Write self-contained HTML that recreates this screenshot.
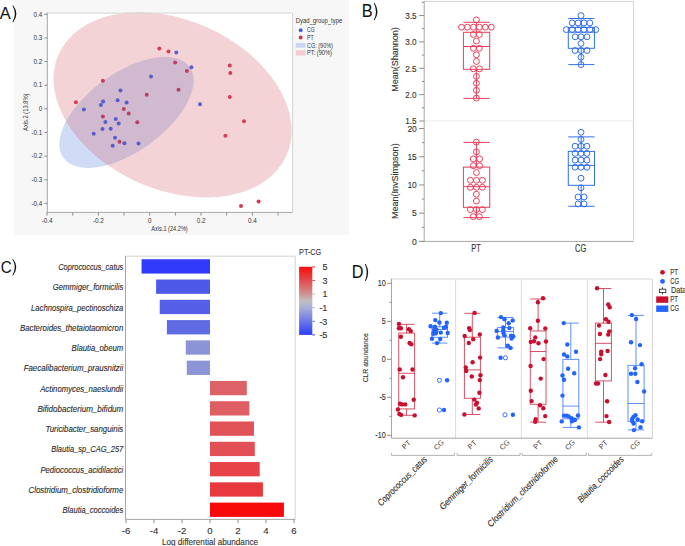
<!DOCTYPE html>
<html><head><meta charset="utf-8"><title>Figure</title>
<style>
html,body{margin:0;padding:0;background:#fff;}
body{width:685px;height:546px;overflow:hidden;}
svg{display:block;font-family:"Liberation Sans", sans-serif;}

</style></head>
<body>
<svg width="685" height="546" viewBox="0 0 685 546">
<g id="pA">
<rect x="14.00" y="0.00" width="335.00" height="235.00" fill="#f7f7f7"/>
<text x="0" y="0" font-size="16.8" fill="#111" transform="translate(-0.25 18.60) scale(0.98 1)">A</text>
<path d="M12.33,5.50 L13.17,5.50 Q19.51,13.85 13.17,22.20 L12.33,22.20 Q17.39,13.85 12.33,5.50 Z" fill="#111"/>
<rect x="47.30" y="13.10" width="245.30" height="199.30" fill="#fff"/>
<circle cx="159.30" cy="48.40" r="2.0" fill="rgb(215,55,80)"/>
<circle cx="168.50" cy="51.40" r="2.0" fill="rgb(215,55,80)"/>
<circle cx="175.10" cy="62.50" r="2.0" fill="rgb(215,55,80)"/>
<circle cx="186.90" cy="70.90" r="2.0" fill="rgb(215,55,80)"/>
<circle cx="178.50" cy="89.70" r="2.0" fill="rgb(215,55,80)"/>
<circle cx="146.70" cy="94.80" r="2.0" fill="rgb(215,55,80)"/>
<circle cx="102.90" cy="80.70" r="2.0" fill="rgb(215,55,80)"/>
<circle cx="75.90" cy="102.30" r="2.0" fill="rgb(215,55,80)"/>
<circle cx="123.80" cy="109.10" r="2.0" fill="rgb(215,55,80)"/>
<circle cx="128.70" cy="113.60" r="2.0" fill="rgb(215,55,80)"/>
<circle cx="102.90" cy="116.40" r="2.0" fill="rgb(215,55,80)"/>
<circle cx="137.30" cy="122.20" r="2.0" fill="rgb(215,55,80)"/>
<circle cx="119.50" cy="141.80" r="2.0" fill="rgb(215,55,80)"/>
<circle cx="229.80" cy="65.50" r="2.0" fill="rgb(215,55,80)"/>
<circle cx="230.30" cy="73.00" r="2.0" fill="rgb(215,55,80)"/>
<circle cx="229.80" cy="96.90" r="2.0" fill="rgb(215,55,80)"/>
<circle cx="244.00" cy="121.30" r="2.0" fill="rgb(215,55,80)"/>
<circle cx="225.40" cy="135.80" r="2.0" fill="rgb(215,55,80)"/>
<circle cx="241.00" cy="206.00" r="2.0" fill="rgb(215,55,80)"/>
<circle cx="258.60" cy="201.40" r="2.0" fill="rgb(215,55,80)"/>
<circle cx="176.30" cy="52.50" r="2.0" fill="rgb(50,104,246)"/>
<circle cx="191.40" cy="67.20" r="2.0" fill="rgb(50,104,246)"/>
<circle cx="151.00" cy="76.40" r="2.0" fill="rgb(50,104,246)"/>
<circle cx="120.50" cy="90.50" r="2.0" fill="rgb(50,104,246)"/>
<circle cx="103.10" cy="101.50" r="2.0" fill="rgb(50,104,246)"/>
<circle cx="100.90" cy="105.00" r="2.0" fill="rgb(50,104,246)"/>
<circle cx="117.60" cy="100.30" r="2.0" fill="rgb(50,104,246)"/>
<circle cx="126.60" cy="102.50" r="2.0" fill="rgb(50,104,246)"/>
<circle cx="83.90" cy="109.50" r="2.0" fill="rgb(50,104,246)"/>
<circle cx="115.80" cy="118.90" r="2.0" fill="rgb(50,104,246)"/>
<circle cx="118.70" cy="123.60" r="2.0" fill="rgb(50,104,246)"/>
<circle cx="105.40" cy="122.00" r="2.0" fill="rgb(50,104,246)"/>
<circle cx="102.50" cy="128.90" r="2.0" fill="rgb(50,104,246)"/>
<circle cx="110.70" cy="128.70" r="2.0" fill="rgb(50,104,246)"/>
<circle cx="93.70" cy="133.80" r="2.0" fill="rgb(50,104,246)"/>
<circle cx="115.00" cy="137.70" r="2.0" fill="rgb(50,104,246)"/>
<circle cx="124.40" cy="143.20" r="2.0" fill="rgb(50,104,246)"/>
<circle cx="112.70" cy="145.70" r="2.0" fill="rgb(50,104,246)"/>
<circle cx="138.50" cy="143.60" r="2.0" fill="rgb(50,104,246)"/>
<circle cx="200.00" cy="104.20" r="2.0" fill="rgb(50,104,246)"/>
<ellipse cx="126.48" cy="112.39" rx="77.82" ry="39.19" transform="rotate(-35.76 126.48 112.39)" fill="rgb(20,80,205)" fill-opacity="0.2"/>
<ellipse cx="172.6" cy="104.84" rx="124.67" ry="84.83" transform="rotate(23.9 172.6 104.84)" fill="rgb(211,79,95)" fill-opacity="0.25"/>
<line x1="47.30" y1="13.10" x2="292.60" y2="13.10" stroke="#d4d4d4" stroke-width="1"/>
<line x1="292.60" y1="13.10" x2="292.60" y2="212.40" stroke="#d4d4d4" stroke-width="1"/>
<line x1="47.30" y1="12.60" x2="47.30" y2="212.40" stroke="#a6a6a6" stroke-width="1"/>
<line x1="46.80" y1="212.40" x2="292.60" y2="212.40" stroke="#a6a6a6" stroke-width="1"/>
<line x1="44.30" y1="203.37" x2="47.30" y2="203.37" stroke="#8c8c8c" stroke-width="1"/>
<text x="42.30" y="205.57" font-size="6.3" text-anchor="end" fill="#333">-0.4</text>
<line x1="44.30" y1="179.74" x2="47.30" y2="179.74" stroke="#8c8c8c" stroke-width="1"/>
<text x="42.30" y="181.94" font-size="6.3" text-anchor="end" fill="#333">-0.3</text>
<line x1="44.30" y1="156.11" x2="47.30" y2="156.11" stroke="#8c8c8c" stroke-width="1"/>
<text x="42.30" y="158.31" font-size="6.3" text-anchor="end" fill="#333">-0.2</text>
<line x1="44.30" y1="132.48" x2="47.30" y2="132.48" stroke="#8c8c8c" stroke-width="1"/>
<text x="42.30" y="134.68" font-size="6.3" text-anchor="end" fill="#333">-0.1</text>
<line x1="44.30" y1="108.85" x2="47.30" y2="108.85" stroke="#8c8c8c" stroke-width="1"/>
<text x="42.30" y="111.05" font-size="6.3" text-anchor="end" fill="#333">0</text>
<line x1="44.30" y1="85.22" x2="47.30" y2="85.22" stroke="#8c8c8c" stroke-width="1"/>
<text x="42.30" y="87.42" font-size="6.3" text-anchor="end" fill="#333">0.1</text>
<line x1="44.30" y1="61.59" x2="47.30" y2="61.59" stroke="#8c8c8c" stroke-width="1"/>
<text x="42.30" y="63.79" font-size="6.3" text-anchor="end" fill="#333">0.2</text>
<line x1="44.30" y1="37.96" x2="47.30" y2="37.96" stroke="#8c8c8c" stroke-width="1"/>
<text x="42.30" y="40.16" font-size="6.3" text-anchor="end" fill="#333">0.3</text>
<line x1="44.30" y1="14.33" x2="47.30" y2="14.33" stroke="#8c8c8c" stroke-width="1"/>
<text x="42.30" y="16.53" font-size="6.3" text-anchor="end" fill="#333">0.4</text>
<line x1="47.06" y1="212.40" x2="47.06" y2="215.60" stroke="#8c8c8c" stroke-width="1"/>
<line x1="72.72" y1="212.40" x2="72.72" y2="215.60" stroke="#8c8c8c" stroke-width="1"/>
<line x1="98.38" y1="212.40" x2="98.38" y2="215.60" stroke="#8c8c8c" stroke-width="1"/>
<line x1="124.04" y1="212.40" x2="124.04" y2="215.60" stroke="#8c8c8c" stroke-width="1"/>
<line x1="149.70" y1="212.40" x2="149.70" y2="215.60" stroke="#8c8c8c" stroke-width="1"/>
<line x1="175.36" y1="212.40" x2="175.36" y2="215.60" stroke="#8c8c8c" stroke-width="1"/>
<line x1="201.02" y1="212.40" x2="201.02" y2="215.60" stroke="#8c8c8c" stroke-width="1"/>
<line x1="226.68" y1="212.40" x2="226.68" y2="215.60" stroke="#8c8c8c" stroke-width="1"/>
<line x1="252.34" y1="212.40" x2="252.34" y2="215.60" stroke="#8c8c8c" stroke-width="1"/>
<line x1="278.00" y1="212.40" x2="278.00" y2="215.60" stroke="#8c8c8c" stroke-width="1"/>
<text x="47.06" y="222.80" font-size="6.3" text-anchor="middle" fill="#333">-0.4</text>
<text x="98.38" y="222.80" font-size="6.3" text-anchor="middle" fill="#333">-0.2</text>
<text x="149.70" y="222.80" font-size="6.3" text-anchor="middle" fill="#333">0</text>
<text x="201.02" y="222.80" font-size="6.3" text-anchor="middle" fill="#333">0.2</text>
<text x="252.34" y="222.80" font-size="6.3" text-anchor="middle" fill="#333">0.4</text>
<text x="169.50" y="231.40" font-size="6.3" text-anchor="middle" fill="#333" textLength="36.50" lengthAdjust="spacingAndGlyphs">Axis.1 (24.2%)</text>
<text x="28.20" y="112.20" font-size="6.3" text-anchor="middle" fill="#333" textLength="37.50" lengthAdjust="spacingAndGlyphs" transform="rotate(-90 28.20 112.20)">Axis.2 (13.8%)</text>
<text x="295.70" y="22.50" font-size="6.8" fill="#333" textLength="46.50" lengthAdjust="spacingAndGlyphs">Dyad_group_type</text>
<circle cx="300.70" cy="30.20" r="1.9" fill="#2e5ee0"/>
<text x="307.00" y="32.40" font-size="6.8" fill="#333" textLength="7.70" lengthAdjust="spacingAndGlyphs">CG</text>
<circle cx="300.70" cy="37.50" r="1.9" fill="#d32e47"/>
<text x="307.00" y="39.70" font-size="6.8" fill="#333" textLength="6.60" lengthAdjust="spacingAndGlyphs">PT</text>
<rect x="295.70" y="43.00" width="9.90" height="4.80" fill="#cad7f3"/>
<text x="307.00" y="47.50" font-size="6.8" fill="#333" textLength="25.90" lengthAdjust="spacingAndGlyphs">CG: (90%)</text>
<rect x="295.70" y="50.20" width="9.90" height="5.30" fill="#f3cdd4"/>
<text x="307.00" y="55.00" font-size="6.8" fill="#333" textLength="25.00" lengthAdjust="spacingAndGlyphs">PT: (90%)</text>
</g>
<g id="pB">
<text x="0" y="0" font-size="17.6" fill="#111" transform="translate(361.76 16.80) scale(0.93 1)">B</text>
<path d="M373.73,3.10 L374.57,3.10 Q380.31,11.70 374.57,20.30 L373.73,20.30 Q378.19,11.70 373.73,3.10 Z" fill="#111"/>
<line x1="424.20" y1="1.40" x2="633.40" y2="1.40" stroke="#d4d4d4" stroke-width="1"/>
<line x1="633.40" y1="1.40" x2="633.40" y2="241.40" stroke="#d4d4d4" stroke-width="1"/>
<line x1="424.20" y1="120.90" x2="633.40" y2="120.90" stroke="#ebebeb" stroke-width="1"/>
<line x1="424.20" y1="1.00" x2="424.20" y2="241.40" stroke="#a6a6a6" stroke-width="1"/>
<line x1="419.20" y1="241.40" x2="633.40" y2="241.40" stroke="#a6a6a6" stroke-width="1"/>
<line x1="419.20" y1="121.00" x2="424.20" y2="121.00" stroke="#8c8c8c" stroke-width="1"/>
<text x="416.60" y="124.30" font-size="9.8" text-anchor="end" fill="#333" stroke="#333" stroke-width="0.12" textLength="11.40" lengthAdjust="spacingAndGlyphs">1.5</text>
<line x1="421.80" y1="107.81" x2="424.20" y2="107.81" stroke="#8c8c8c" stroke-width="1"/>
<line x1="419.20" y1="94.62" x2="424.20" y2="94.62" stroke="#8c8c8c" stroke-width="1"/>
<text x="416.60" y="97.92" font-size="9.8" text-anchor="end" fill="#333" stroke="#333" stroke-width="0.12" textLength="11.40" lengthAdjust="spacingAndGlyphs">2.0</text>
<line x1="421.80" y1="81.44" x2="424.20" y2="81.44" stroke="#8c8c8c" stroke-width="1"/>
<line x1="419.20" y1="68.25" x2="424.20" y2="68.25" stroke="#8c8c8c" stroke-width="1"/>
<text x="416.60" y="71.55" font-size="9.8" text-anchor="end" fill="#333" stroke="#333" stroke-width="0.12" textLength="11.40" lengthAdjust="spacingAndGlyphs">2.5</text>
<line x1="421.80" y1="55.06" x2="424.20" y2="55.06" stroke="#8c8c8c" stroke-width="1"/>
<line x1="419.20" y1="41.88" x2="424.20" y2="41.88" stroke="#8c8c8c" stroke-width="1"/>
<text x="416.60" y="45.17" font-size="9.8" text-anchor="end" fill="#333" stroke="#333" stroke-width="0.12" textLength="11.40" lengthAdjust="spacingAndGlyphs">3.0</text>
<line x1="421.80" y1="28.69" x2="424.20" y2="28.69" stroke="#8c8c8c" stroke-width="1"/>
<line x1="419.20" y1="15.50" x2="424.20" y2="15.50" stroke="#8c8c8c" stroke-width="1"/>
<text x="416.60" y="18.80" font-size="9.8" text-anchor="end" fill="#333" stroke="#333" stroke-width="0.12" textLength="11.40" lengthAdjust="spacingAndGlyphs">3.5</text>
<line x1="421.80" y1="2.31" x2="424.20" y2="2.31" stroke="#8c8c8c" stroke-width="1"/>
<line x1="419.20" y1="241.40" x2="424.20" y2="241.40" stroke="#8c8c8c" stroke-width="1"/>
<text x="416.80" y="244.70" font-size="9.8" text-anchor="end" fill="#333" stroke="#333" stroke-width="0.12" textLength="4.80" lengthAdjust="spacingAndGlyphs">0</text>
<line x1="421.80" y1="227.29" x2="424.20" y2="227.29" stroke="#8c8c8c" stroke-width="1"/>
<line x1="419.20" y1="213.18" x2="424.20" y2="213.18" stroke="#8c8c8c" stroke-width="1"/>
<text x="416.80" y="216.48" font-size="9.8" text-anchor="end" fill="#333" stroke="#333" stroke-width="0.12" textLength="4.80" lengthAdjust="spacingAndGlyphs">5</text>
<line x1="421.80" y1="199.06" x2="424.20" y2="199.06" stroke="#8c8c8c" stroke-width="1"/>
<line x1="419.20" y1="184.95" x2="424.20" y2="184.95" stroke="#8c8c8c" stroke-width="1"/>
<text x="416.80" y="188.25" font-size="9.8" text-anchor="end" fill="#333" stroke="#333" stroke-width="0.12" textLength="9.40" lengthAdjust="spacingAndGlyphs">10</text>
<line x1="421.80" y1="170.84" x2="424.20" y2="170.84" stroke="#8c8c8c" stroke-width="1"/>
<line x1="419.20" y1="156.73" x2="424.20" y2="156.73" stroke="#8c8c8c" stroke-width="1"/>
<text x="416.80" y="160.03" font-size="9.8" text-anchor="end" fill="#333" stroke="#333" stroke-width="0.12" textLength="9.40" lengthAdjust="spacingAndGlyphs">15</text>
<line x1="421.80" y1="142.61" x2="424.20" y2="142.61" stroke="#8c8c8c" stroke-width="1"/>
<line x1="419.20" y1="128.50" x2="424.20" y2="128.50" stroke="#8c8c8c" stroke-width="1"/>
<text x="416.80" y="131.80" font-size="9.8" text-anchor="end" fill="#333" stroke="#333" stroke-width="0.12" textLength="9.40" lengthAdjust="spacingAndGlyphs">20</text>
<text x="397.60" y="59.50" font-size="8.6" text-anchor="middle" fill="#333" stroke="#333" stroke-width="0.12" textLength="64.50" lengthAdjust="spacingAndGlyphs" transform="rotate(-90 397.60 59.50)">Mean(Shannon)</text>
<text x="397.80" y="181.20" font-size="8.6" text-anchor="middle" fill="#333" stroke="#333" stroke-width="0.12" textLength="75.70" lengthAdjust="spacingAndGlyphs" transform="rotate(-90 397.80 181.20)">Mean(InvSimpson)</text>
<text x="476.00" y="251.80" font-size="10.2" text-anchor="middle" fill="#333" stroke="#333" stroke-width="0.12" textLength="9.50" lengthAdjust="spacingAndGlyphs">PT</text>
<text x="580.70" y="251.80" font-size="10.2" text-anchor="middle" fill="#333" stroke="#333" stroke-width="0.12" textLength="11.30" lengthAdjust="spacingAndGlyphs">CG</text>
<line x1="463.40" y1="22.30" x2="489.70" y2="22.30" stroke="#ec3d5a" stroke-width="1"/>
<line x1="463.40" y1="98.40" x2="489.70" y2="98.40" stroke="#ec3d5a" stroke-width="1"/>
<line x1="476.40" y1="22.30" x2="476.40" y2="32.30" stroke="#ec3d5a" stroke-width="1"/>
<line x1="476.40" y1="69.30" x2="476.40" y2="98.40" stroke="#ec3d5a" stroke-width="1"/>
<rect x="463.40" y="32.30" width="26.30" height="37.00" fill="none" stroke="#ec3d5a" stroke-width="1"/>
<line x1="463.40" y1="46.50" x2="489.70" y2="46.50" stroke="#ec3d5a" stroke-width="1"/>
<circle cx="476.40" cy="19.90" r="2.95" fill="none" stroke="#ec3d5a" stroke-width="1"/>
<circle cx="461.50" cy="27.20" r="2.95" fill="none" stroke="#ec3d5a" stroke-width="1"/>
<circle cx="467.45" cy="27.20" r="2.95" fill="none" stroke="#ec3d5a" stroke-width="1"/>
<circle cx="473.40" cy="27.20" r="2.95" fill="none" stroke="#ec3d5a" stroke-width="1"/>
<circle cx="479.35" cy="27.20" r="2.95" fill="none" stroke="#ec3d5a" stroke-width="1"/>
<circle cx="485.30" cy="27.20" r="2.95" fill="none" stroke="#ec3d5a" stroke-width="1"/>
<circle cx="491.25" cy="27.20" r="2.95" fill="none" stroke="#ec3d5a" stroke-width="1"/>
<circle cx="473.40" cy="34.50" r="2.95" fill="none" stroke="#ec3d5a" stroke-width="1"/>
<circle cx="479.30" cy="34.50" r="2.95" fill="none" stroke="#ec3d5a" stroke-width="1"/>
<circle cx="476.40" cy="41.00" r="2.95" fill="none" stroke="#ec3d5a" stroke-width="1"/>
<circle cx="473.40" cy="48.30" r="2.95" fill="none" stroke="#ec3d5a" stroke-width="1"/>
<circle cx="479.30" cy="48.30" r="2.95" fill="none" stroke="#ec3d5a" stroke-width="1"/>
<circle cx="476.40" cy="54.80" r="2.95" fill="none" stroke="#ec3d5a" stroke-width="1"/>
<circle cx="476.40" cy="61.50" r="2.95" fill="none" stroke="#ec3d5a" stroke-width="1"/>
<circle cx="473.30" cy="68.80" r="2.95" fill="none" stroke="#ec3d5a" stroke-width="1"/>
<circle cx="479.50" cy="68.80" r="2.95" fill="none" stroke="#ec3d5a" stroke-width="1"/>
<circle cx="476.40" cy="76.40" r="2.95" fill="none" stroke="#ec3d5a" stroke-width="1"/>
<circle cx="476.40" cy="83.30" r="2.95" fill="none" stroke="#ec3d5a" stroke-width="1"/>
<circle cx="476.40" cy="90.30" r="2.95" fill="none" stroke="#ec3d5a" stroke-width="1"/>
<circle cx="476.40" cy="98.10" r="2.95" fill="none" stroke="#ec3d5a" stroke-width="1"/>
<line x1="568.30" y1="18.50" x2="594.40" y2="18.50" stroke="#3370ee" stroke-width="1"/>
<line x1="568.30" y1="64.60" x2="594.40" y2="64.60" stroke="#3370ee" stroke-width="1"/>
<line x1="581.20" y1="18.50" x2="581.20" y2="27.50" stroke="#3370ee" stroke-width="1"/>
<line x1="581.20" y1="48.30" x2="581.20" y2="64.60" stroke="#3370ee" stroke-width="1"/>
<rect x="568.30" y="27.50" width="26.10" height="20.80" fill="none" stroke="#3370ee" stroke-width="1"/>
<line x1="568.30" y1="32.20" x2="594.40" y2="32.20" stroke="#3370ee" stroke-width="1"/>
<circle cx="581.00" cy="15.60" r="2.95" fill="none" stroke="#3370ee" stroke-width="1"/>
<circle cx="572.20" cy="22.90" r="2.95" fill="none" stroke="#3370ee" stroke-width="1"/>
<circle cx="578.08" cy="22.90" r="2.95" fill="none" stroke="#3370ee" stroke-width="1"/>
<circle cx="583.96" cy="22.90" r="2.95" fill="none" stroke="#3370ee" stroke-width="1"/>
<circle cx="589.84" cy="22.90" r="2.95" fill="none" stroke="#3370ee" stroke-width="1"/>
<circle cx="566.30" cy="29.60" r="2.95" fill="none" stroke="#3370ee" stroke-width="1"/>
<circle cx="572.20" cy="29.60" r="2.95" fill="none" stroke="#3370ee" stroke-width="1"/>
<circle cx="578.10" cy="29.60" r="2.95" fill="none" stroke="#3370ee" stroke-width="1"/>
<circle cx="584.00" cy="29.60" r="2.95" fill="none" stroke="#3370ee" stroke-width="1"/>
<circle cx="589.90" cy="29.60" r="2.95" fill="none" stroke="#3370ee" stroke-width="1"/>
<circle cx="595.80" cy="29.60" r="2.95" fill="none" stroke="#3370ee" stroke-width="1"/>
<circle cx="575.10" cy="36.80" r="2.95" fill="none" stroke="#3370ee" stroke-width="1"/>
<circle cx="581.00" cy="36.80" r="2.95" fill="none" stroke="#3370ee" stroke-width="1"/>
<circle cx="587.00" cy="36.80" r="2.95" fill="none" stroke="#3370ee" stroke-width="1"/>
<circle cx="581.00" cy="43.50" r="2.95" fill="none" stroke="#3370ee" stroke-width="1"/>
<circle cx="575.10" cy="50.50" r="2.95" fill="none" stroke="#3370ee" stroke-width="1"/>
<circle cx="581.00" cy="50.50" r="2.95" fill="none" stroke="#3370ee" stroke-width="1"/>
<circle cx="587.00" cy="50.50" r="2.95" fill="none" stroke="#3370ee" stroke-width="1"/>
<circle cx="581.00" cy="57.20" r="2.95" fill="none" stroke="#3370ee" stroke-width="1"/>
<circle cx="581.00" cy="64.60" r="2.95" fill="none" stroke="#3370ee" stroke-width="1"/>
<line x1="463.40" y1="142.40" x2="489.70" y2="142.40" stroke="#ec3d5a" stroke-width="1"/>
<line x1="463.40" y1="217.60" x2="489.70" y2="217.60" stroke="#ec3d5a" stroke-width="1"/>
<line x1="476.40" y1="142.40" x2="476.40" y2="167.10" stroke="#ec3d5a" stroke-width="1"/>
<line x1="476.40" y1="207.30" x2="476.40" y2="217.60" stroke="#ec3d5a" stroke-width="1"/>
<rect x="463.40" y="167.10" width="26.30" height="40.20" fill="none" stroke="#ec3d5a" stroke-width="1"/>
<line x1="463.40" y1="186.70" x2="489.70" y2="186.70" stroke="#ec3d5a" stroke-width="1"/>
<circle cx="476.40" cy="142.10" r="2.95" fill="none" stroke="#ec3d5a" stroke-width="1"/>
<circle cx="476.40" cy="151.90" r="2.95" fill="none" stroke="#ec3d5a" stroke-width="1"/>
<circle cx="473.30" cy="158.90" r="2.95" fill="none" stroke="#ec3d5a" stroke-width="1"/>
<circle cx="479.60" cy="158.90" r="2.95" fill="none" stroke="#ec3d5a" stroke-width="1"/>
<circle cx="473.30" cy="165.70" r="2.95" fill="none" stroke="#ec3d5a" stroke-width="1"/>
<circle cx="479.60" cy="165.70" r="2.95" fill="none" stroke="#ec3d5a" stroke-width="1"/>
<circle cx="476.40" cy="172.50" r="2.95" fill="none" stroke="#ec3d5a" stroke-width="1"/>
<circle cx="470.40" cy="180.30" r="2.95" fill="none" stroke="#ec3d5a" stroke-width="1"/>
<circle cx="476.40" cy="180.30" r="2.95" fill="none" stroke="#ec3d5a" stroke-width="1"/>
<circle cx="482.40" cy="180.30" r="2.95" fill="none" stroke="#ec3d5a" stroke-width="1"/>
<circle cx="470.40" cy="187.30" r="2.95" fill="none" stroke="#ec3d5a" stroke-width="1"/>
<circle cx="476.40" cy="187.30" r="2.95" fill="none" stroke="#ec3d5a" stroke-width="1"/>
<circle cx="482.40" cy="187.30" r="2.95" fill="none" stroke="#ec3d5a" stroke-width="1"/>
<circle cx="476.40" cy="194.20" r="2.95" fill="none" stroke="#ec3d5a" stroke-width="1"/>
<circle cx="476.40" cy="201.10" r="2.95" fill="none" stroke="#ec3d5a" stroke-width="1"/>
<circle cx="470.40" cy="209.60" r="2.95" fill="none" stroke="#ec3d5a" stroke-width="1"/>
<circle cx="476.40" cy="209.60" r="2.95" fill="none" stroke="#ec3d5a" stroke-width="1"/>
<circle cx="482.40" cy="209.60" r="2.95" fill="none" stroke="#ec3d5a" stroke-width="1"/>
<circle cx="473.30" cy="216.60" r="2.95" fill="none" stroke="#ec3d5a" stroke-width="1"/>
<circle cx="479.40" cy="216.60" r="2.95" fill="none" stroke="#ec3d5a" stroke-width="1"/>
<line x1="568.30" y1="136.90" x2="594.50" y2="136.90" stroke="#3370ee" stroke-width="1"/>
<line x1="568.30" y1="206.30" x2="594.50" y2="206.30" stroke="#3370ee" stroke-width="1"/>
<line x1="581.20" y1="136.90" x2="581.20" y2="151.40" stroke="#3370ee" stroke-width="1"/>
<line x1="581.20" y1="185.30" x2="581.20" y2="206.30" stroke="#3370ee" stroke-width="1"/>
<rect x="568.30" y="151.40" width="26.20" height="33.90" fill="none" stroke="#3370ee" stroke-width="1"/>
<line x1="568.30" y1="165.40" x2="594.50" y2="165.40" stroke="#3370ee" stroke-width="1"/>
<circle cx="581.00" cy="132.30" r="2.95" fill="none" stroke="#3370ee" stroke-width="1"/>
<circle cx="581.00" cy="139.40" r="2.95" fill="none" stroke="#3370ee" stroke-width="1"/>
<circle cx="575.10" cy="146.20" r="2.95" fill="none" stroke="#3370ee" stroke-width="1"/>
<circle cx="581.00" cy="146.20" r="2.95" fill="none" stroke="#3370ee" stroke-width="1"/>
<circle cx="586.90" cy="146.20" r="2.95" fill="none" stroke="#3370ee" stroke-width="1"/>
<circle cx="575.10" cy="153.40" r="2.95" fill="none" stroke="#3370ee" stroke-width="1"/>
<circle cx="581.00" cy="153.40" r="2.95" fill="none" stroke="#3370ee" stroke-width="1"/>
<circle cx="586.90" cy="153.40" r="2.95" fill="none" stroke="#3370ee" stroke-width="1"/>
<circle cx="575.10" cy="160.10" r="2.95" fill="none" stroke="#3370ee" stroke-width="1"/>
<circle cx="581.00" cy="160.10" r="2.95" fill="none" stroke="#3370ee" stroke-width="1"/>
<circle cx="586.90" cy="160.10" r="2.95" fill="none" stroke="#3370ee" stroke-width="1"/>
<circle cx="575.10" cy="167.20" r="2.95" fill="none" stroke="#3370ee" stroke-width="1"/>
<circle cx="581.00" cy="167.20" r="2.95" fill="none" stroke="#3370ee" stroke-width="1"/>
<circle cx="586.90" cy="167.20" r="2.95" fill="none" stroke="#3370ee" stroke-width="1"/>
<circle cx="581.00" cy="178.20" r="2.95" fill="none" stroke="#3370ee" stroke-width="1"/>
<circle cx="581.00" cy="187.80" r="2.95" fill="none" stroke="#3370ee" stroke-width="1"/>
<circle cx="578.10" cy="197.00" r="2.95" fill="none" stroke="#3370ee" stroke-width="1"/>
<circle cx="584.10" cy="197.00" r="2.95" fill="none" stroke="#3370ee" stroke-width="1"/>
<circle cx="578.10" cy="203.90" r="2.95" fill="none" stroke="#3370ee" stroke-width="1"/>
<circle cx="584.10" cy="203.90" r="2.95" fill="none" stroke="#3370ee" stroke-width="1"/>
</g>
<g id="pC">
<text x="0" y="0" font-size="16.9" fill="#111" transform="translate(0.63 272.50) scale(0.904 1)">C</text>
<path d="M12.28,259.00 L13.12,259.00 Q19.46,267.30 13.12,275.60 L12.28,275.60 Q17.34,267.30 12.28,259.00 Z" fill="#111"/>
<line x1="125.50" y1="256.20" x2="295.20" y2="256.20" stroke="#d4d4d4" stroke-width="1"/>
<line x1="295.20" y1="256.20" x2="295.20" y2="519.40" stroke="#d4d4d4" stroke-width="1"/>
<line x1="125.50" y1="256.00" x2="125.50" y2="519.40" stroke="#a6a6a6" stroke-width="1"/>
<line x1="125.50" y1="519.40" x2="295.20" y2="519.40" stroke="#a6a6a6" stroke-width="1"/>
<rect x="141.54" y="259.25" width="68.46" height="14.30" fill="rgb(48,58,248)"/>
<text x="123.30" y="269.95" font-size="8.5" text-anchor="end" fill="#2a2a2a" stroke="#2a2a2a" stroke-width="0.12" font-style="italic" textLength="65.10" lengthAdjust="spacingAndGlyphs">Coprococcus_catus</text>
<rect x="156.10" y="279.53" width="53.90" height="14.30" fill="rgb(78,88,232)"/>
<text x="123.30" y="290.23" font-size="8.5" text-anchor="end" fill="#2a2a2a" stroke="#2a2a2a" stroke-width="0.12" font-style="italic" textLength="70.60" lengthAdjust="spacingAndGlyphs">Gemmiger_formicilis</text>
<rect x="159.74" y="299.81" width="50.26" height="14.30" fill="rgb(84,94,230)"/>
<text x="123.30" y="310.51" font-size="8.5" text-anchor="end" fill="#2a2a2a" stroke="#2a2a2a" stroke-width="0.12" font-style="italic" textLength="92.20" lengthAdjust="spacingAndGlyphs">Lachnospira_pectinoschiza</text>
<rect x="166.88" y="320.09" width="43.12" height="14.30" fill="rgb(96,106,226)"/>
<text x="123.30" y="330.79" font-size="8.5" text-anchor="end" fill="#2a2a2a" stroke="#2a2a2a" stroke-width="0.12" font-style="italic" textLength="103.30" lengthAdjust="spacingAndGlyphs">Bacteroides_thetaiotaomicron</text>
<rect x="185.78" y="340.37" width="24.22" height="14.30" fill="rgb(138,148,214)"/>
<text x="123.30" y="351.07" font-size="8.5" text-anchor="end" fill="#2a2a2a" stroke="#2a2a2a" stroke-width="0.12" font-style="italic" textLength="51.80" lengthAdjust="spacingAndGlyphs">Blautia_obeum</text>
<rect x="186.76" y="360.65" width="23.24" height="14.30" fill="rgb(140,150,214)"/>
<text x="123.30" y="371.35" font-size="8.5" text-anchor="end" fill="#2a2a2a" stroke="#2a2a2a" stroke-width="0.12" font-style="italic" textLength="99.60" lengthAdjust="spacingAndGlyphs">Faecalibacterium_prausnitzii</text>
<rect x="210.00" y="380.93" width="36.82" height="14.30" fill="rgb(220,98,104)"/>
<text x="123.30" y="391.63" font-size="8.5" text-anchor="end" fill="#2a2a2a" stroke="#2a2a2a" stroke-width="0.12" font-style="italic" textLength="83.10" lengthAdjust="spacingAndGlyphs">Actinomyces_naeslundii</text>
<rect x="210.00" y="401.21" width="39.34" height="14.30" fill="rgb(222,94,99)"/>
<text x="123.30" y="411.91" font-size="8.5" text-anchor="end" fill="#2a2a2a" stroke="#2a2a2a" stroke-width="0.12" font-style="italic" textLength="85.90" lengthAdjust="spacingAndGlyphs">Bifidobacterium_bifidum</text>
<rect x="210.00" y="421.49" width="43.96" height="14.30" fill="rgb(225,82,87)"/>
<text x="123.30" y="432.19" font-size="8.5" text-anchor="end" fill="#2a2a2a" stroke="#2a2a2a" stroke-width="0.12" font-style="italic" textLength="77.80" lengthAdjust="spacingAndGlyphs">Turicibacter_sanguinis</text>
<rect x="210.00" y="441.77" width="44.80" height="14.30" fill="rgb(226,80,85)"/>
<text x="123.30" y="452.47" font-size="8.5" text-anchor="end" fill="#2a2a2a" stroke="#2a2a2a" stroke-width="0.12" font-style="italic" textLength="72.10" lengthAdjust="spacingAndGlyphs">Blautia_sp_CAG_257</text>
<rect x="210.00" y="462.05" width="49.70" height="14.30" fill="rgb(230,66,71)"/>
<text x="123.30" y="472.75" font-size="8.5" text-anchor="end" fill="#2a2a2a" stroke="#2a2a2a" stroke-width="0.12" font-style="italic" textLength="82.90" lengthAdjust="spacingAndGlyphs">Pediococcus_acidilactici</text>
<rect x="210.00" y="482.33" width="52.92" height="14.30" fill="rgb(232,58,62)"/>
<text x="123.30" y="493.03" font-size="8.5" text-anchor="end" fill="#2a2a2a" stroke="#2a2a2a" stroke-width="0.12" font-style="italic" textLength="94.80" lengthAdjust="spacingAndGlyphs">Clostridium_clostridioforme</text>
<rect x="210.00" y="502.61" width="73.92" height="14.30" fill="rgb(248,10,10)"/>
<text x="123.30" y="513.31" font-size="8.5" text-anchor="end" fill="#2a2a2a" stroke="#2a2a2a" stroke-width="0.12" font-style="italic" textLength="60.70" lengthAdjust="spacingAndGlyphs">Blautia_coccoides</text>
<line x1="126.00" y1="519.40" x2="126.00" y2="523.00" stroke="#8c8c8c" stroke-width="1"/>
<text x="126.00" y="533.60" font-size="9.6" text-anchor="middle" fill="#333" stroke="#333" stroke-width="0.12">-6</text>
<line x1="154.00" y1="519.40" x2="154.00" y2="523.00" stroke="#8c8c8c" stroke-width="1"/>
<text x="154.00" y="533.60" font-size="9.6" text-anchor="middle" fill="#333" stroke="#333" stroke-width="0.12">-4</text>
<line x1="182.00" y1="519.40" x2="182.00" y2="523.00" stroke="#8c8c8c" stroke-width="1"/>
<text x="182.00" y="533.60" font-size="9.6" text-anchor="middle" fill="#333" stroke="#333" stroke-width="0.12">-2</text>
<line x1="210.00" y1="519.40" x2="210.00" y2="523.00" stroke="#8c8c8c" stroke-width="1"/>
<text x="210.00" y="533.60" font-size="9.6" text-anchor="middle" fill="#333" stroke="#333" stroke-width="0.12">0</text>
<line x1="238.00" y1="519.40" x2="238.00" y2="523.00" stroke="#8c8c8c" stroke-width="1"/>
<text x="238.00" y="533.60" font-size="9.6" text-anchor="middle" fill="#333" stroke="#333" stroke-width="0.12">2</text>
<line x1="266.00" y1="519.40" x2="266.00" y2="523.00" stroke="#8c8c8c" stroke-width="1"/>
<text x="266.00" y="533.60" font-size="9.6" text-anchor="middle" fill="#333" stroke="#333" stroke-width="0.12">4</text>
<line x1="294.00" y1="519.40" x2="294.00" y2="523.00" stroke="#8c8c8c" stroke-width="1"/>
<text x="294.00" y="533.60" font-size="9.6" text-anchor="middle" fill="#333" stroke="#333" stroke-width="0.12">6</text>
<text x="210.00" y="544.60" font-size="8.6" text-anchor="middle" fill="#333" stroke="#333" stroke-width="0.12" textLength="96.20" lengthAdjust="spacingAndGlyphs">Log differential abundance</text>
<text x="299.10" y="254.70" font-size="8.8" fill="#333" stroke="#333" stroke-width="0.12" textLength="22.10" lengthAdjust="spacingAndGlyphs">PT-CG</text>
<defs><linearGradient id="cbar" x1="0" y1="0" x2="0" y2="1"><stop offset="0" stop-color="#ff0a0a"/><stop offset="0.2" stop-color="#e24b4d"/><stop offset="0.4" stop-color="#cf9293"/><stop offset="0.5" stop-color="#c0c0c2"/><stop offset="0.6" stop-color="#a9aed8"/><stop offset="0.8" stop-color="#6c78e6"/><stop offset="1" stop-color="#2a3cff"/></linearGradient></defs>
<rect x="299.10" y="266.80" width="13.20" height="68.10" fill="url(#cbar)"/>
<line x1="312.30" y1="266.90" x2="315.00" y2="266.90" stroke="#ff1a1a" stroke-width="1"/>
<text x="327.40" y="270.10" font-size="9.0" text-anchor="end" fill="#333" stroke="#333" stroke-width="0.12">5</text>
<line x1="312.30" y1="280.50" x2="315.00" y2="280.50" stroke="#e24b4d" stroke-width="1"/>
<text x="327.40" y="283.70" font-size="9.0" text-anchor="end" fill="#333" stroke="#333" stroke-width="0.12">3</text>
<line x1="312.30" y1="294.10" x2="315.00" y2="294.10" stroke="#d7a4a5" stroke-width="1"/>
<text x="327.40" y="297.30" font-size="9.0" text-anchor="end" fill="#333" stroke="#333" stroke-width="0.12">1</text>
<line x1="312.30" y1="307.70" x2="315.00" y2="307.70" stroke="#aeb3dc" stroke-width="1"/>
<text x="327.40" y="310.90" font-size="9.0" text-anchor="end" fill="#333" stroke="#333" stroke-width="0.12">-1</text>
<line x1="312.30" y1="321.30" x2="315.00" y2="321.30" stroke="#6c78e6" stroke-width="1"/>
<text x="327.40" y="324.50" font-size="9.0" text-anchor="end" fill="#333" stroke="#333" stroke-width="0.12">-3</text>
<line x1="312.30" y1="334.90" x2="315.00" y2="334.90" stroke="#2a3cff" stroke-width="1"/>
<text x="327.40" y="338.10" font-size="9.0" text-anchor="end" fill="#333" stroke="#333" stroke-width="0.12">-5</text>
</g>
<g id="pD">
<text x="0" y="0" font-size="17.6" fill="#111" transform="translate(351.67 277.50) scale(0.923 1)">D</text>
<path d="M364.88,264.10 L365.72,264.10 Q370.76,272.50 365.72,280.90 L364.88,280.90 Q368.64,272.50 364.88,264.10 Z" fill="#111"/>
<line x1="391.50" y1="279.00" x2="652.40" y2="279.00" stroke="#d4d4d4" stroke-width="1"/>
<line x1="652.40" y1="279.00" x2="652.40" y2="438.20" stroke="#d4d4d4" stroke-width="1"/>
<line x1="455.60" y1="279.00" x2="455.60" y2="438.20" stroke="#dcdcdc" stroke-width="1"/>
<line x1="521.30" y1="279.00" x2="521.30" y2="438.20" stroke="#dcdcdc" stroke-width="1"/>
<line x1="587.30" y1="279.00" x2="587.30" y2="438.20" stroke="#dcdcdc" stroke-width="1"/>
<line x1="391.50" y1="278.60" x2="391.50" y2="438.20" stroke="#a6a6a6" stroke-width="1"/>
<line x1="391.50" y1="438.20" x2="652.40" y2="438.20" stroke="#a6a6a6" stroke-width="1"/>
<line x1="387.00" y1="435.30" x2="391.50" y2="435.30" stroke="#8c8c8c" stroke-width="1"/>
<text x="385.80" y="438.30" font-size="8.4" text-anchor="end" fill="#333" stroke="#333" stroke-width="0.12" textLength="10.44" lengthAdjust="spacingAndGlyphs">-10</text>
<line x1="389.30" y1="416.30" x2="391.50" y2="416.30" stroke="#8c8c8c" stroke-width="1"/>
<line x1="387.00" y1="397.30" x2="391.50" y2="397.30" stroke="#8c8c8c" stroke-width="1"/>
<text x="385.80" y="400.30" font-size="8.4" text-anchor="end" fill="#333" stroke="#333" stroke-width="0.12" textLength="6.42" lengthAdjust="spacingAndGlyphs">-5</text>
<line x1="389.30" y1="378.30" x2="391.50" y2="378.30" stroke="#8c8c8c" stroke-width="1"/>
<line x1="387.00" y1="359.30" x2="391.50" y2="359.30" stroke="#8c8c8c" stroke-width="1"/>
<text x="385.80" y="362.30" font-size="8.4" text-anchor="end" fill="#333" stroke="#333" stroke-width="0.12" textLength="4.02" lengthAdjust="spacingAndGlyphs">0</text>
<line x1="389.30" y1="340.30" x2="391.50" y2="340.30" stroke="#8c8c8c" stroke-width="1"/>
<line x1="387.00" y1="321.30" x2="391.50" y2="321.30" stroke="#8c8c8c" stroke-width="1"/>
<text x="385.80" y="324.30" font-size="8.4" text-anchor="end" fill="#333" stroke="#333" stroke-width="0.12" textLength="4.02" lengthAdjust="spacingAndGlyphs">5</text>
<line x1="389.30" y1="302.30" x2="391.50" y2="302.30" stroke="#8c8c8c" stroke-width="1"/>
<line x1="387.00" y1="283.30" x2="391.50" y2="283.30" stroke="#8c8c8c" stroke-width="1"/>
<text x="385.80" y="286.30" font-size="8.4" text-anchor="end" fill="#333" stroke="#333" stroke-width="0.12" textLength="8.04" lengthAdjust="spacingAndGlyphs">10</text>
<text x="367.80" y="357.80" font-size="8.0" text-anchor="middle" fill="#333" stroke="#333" stroke-width="0.12" textLength="49.00" lengthAdjust="spacingAndGlyphs" transform="rotate(-90 367.80 357.80)">CLR abundance</text>
<line x1="398.70" y1="324.30" x2="414.60" y2="324.30" stroke="#c8102e" stroke-width="1" stroke-opacity="0.72"/>
<line x1="398.70" y1="415.30" x2="414.60" y2="415.30" stroke="#c8102e" stroke-width="1" stroke-opacity="0.72"/>
<line x1="406.60" y1="324.30" x2="406.60" y2="333.10" stroke="#c8102e" stroke-width="1" stroke-opacity="0.72"/>
<line x1="406.60" y1="408.90" x2="406.60" y2="415.30" stroke="#c8102e" stroke-width="1" stroke-opacity="0.72"/>
<rect x="398.70" y="333.10" width="15.90" height="75.80" fill="none" stroke="#c8102e" stroke-width="1" stroke-opacity="0.72"/>
<line x1="398.70" y1="373.30" x2="414.60" y2="373.30" stroke="#c8102e" stroke-width="1" stroke-opacity="0.72"/>
<line x1="432.00" y1="313.20" x2="447.50" y2="313.20" stroke="#2364ff" stroke-width="1" stroke-opacity="0.72"/>
<line x1="432.00" y1="343.10" x2="447.50" y2="343.10" stroke="#2364ff" stroke-width="1" stroke-opacity="0.72"/>
<line x1="439.70" y1="313.20" x2="439.70" y2="326.80" stroke="#2364ff" stroke-width="1" stroke-opacity="0.72"/>
<line x1="439.70" y1="337.30" x2="439.70" y2="343.10" stroke="#2364ff" stroke-width="1" stroke-opacity="0.72"/>
<rect x="432.00" y="326.80" width="15.50" height="10.50" fill="none" stroke="#2364ff" stroke-width="1" stroke-opacity="0.72"/>
<line x1="432.00" y1="329.50" x2="447.50" y2="329.50" stroke="#2364ff" stroke-width="1" stroke-opacity="0.72"/>
<line x1="464.40" y1="313.30" x2="480.40" y2="313.30" stroke="#c8102e" stroke-width="1" stroke-opacity="0.72"/>
<line x1="464.40" y1="414.50" x2="480.40" y2="414.50" stroke="#c8102e" stroke-width="1" stroke-opacity="0.72"/>
<line x1="472.30" y1="313.30" x2="472.30" y2="337.20" stroke="#c8102e" stroke-width="1" stroke-opacity="0.72"/>
<line x1="472.30" y1="398.30" x2="472.30" y2="414.50" stroke="#c8102e" stroke-width="1" stroke-opacity="0.72"/>
<rect x="464.40" y="337.20" width="16.00" height="61.10" fill="none" stroke="#c8102e" stroke-width="1" stroke-opacity="0.72"/>
<line x1="464.40" y1="369.90" x2="480.40" y2="369.90" stroke="#c8102e" stroke-width="1" stroke-opacity="0.72"/>
<line x1="497.40" y1="317.50" x2="513.60" y2="317.50" stroke="#2364ff" stroke-width="1" stroke-opacity="0.72"/>
<line x1="497.40" y1="347.90" x2="513.60" y2="347.90" stroke="#2364ff" stroke-width="1" stroke-opacity="0.72"/>
<line x1="505.50" y1="317.50" x2="505.50" y2="327.60" stroke="#2364ff" stroke-width="1" stroke-opacity="0.72"/>
<line x1="505.50" y1="337.00" x2="505.50" y2="347.90" stroke="#2364ff" stroke-width="1" stroke-opacity="0.72"/>
<rect x="497.40" y="327.60" width="16.20" height="9.40" fill="none" stroke="#2364ff" stroke-width="1" stroke-opacity="0.72"/>
<line x1="497.40" y1="331.50" x2="513.60" y2="331.50" stroke="#2364ff" stroke-width="1" stroke-opacity="0.72"/>
<line x1="530.30" y1="299.00" x2="546.00" y2="299.00" stroke="#c8102e" stroke-width="1" stroke-opacity="0.72"/>
<line x1="530.30" y1="422.20" x2="546.00" y2="422.20" stroke="#c8102e" stroke-width="1" stroke-opacity="0.72"/>
<line x1="538.10" y1="299.00" x2="538.10" y2="331.00" stroke="#c8102e" stroke-width="1" stroke-opacity="0.72"/>
<line x1="538.10" y1="404.30" x2="538.10" y2="422.20" stroke="#c8102e" stroke-width="1" stroke-opacity="0.72"/>
<rect x="530.30" y="331.00" width="15.70" height="73.30" fill="none" stroke="#c8102e" stroke-width="1" stroke-opacity="0.72"/>
<line x1="530.30" y1="351.50" x2="546.00" y2="351.50" stroke="#c8102e" stroke-width="1" stroke-opacity="0.72"/>
<line x1="562.90" y1="323.10" x2="578.80" y2="323.10" stroke="#2364ff" stroke-width="1" stroke-opacity="0.72"/>
<line x1="562.90" y1="427.40" x2="578.80" y2="427.40" stroke="#2364ff" stroke-width="1" stroke-opacity="0.72"/>
<line x1="570.80" y1="323.10" x2="570.80" y2="359.40" stroke="#2364ff" stroke-width="1" stroke-opacity="0.72"/>
<line x1="570.80" y1="418.80" x2="570.80" y2="427.40" stroke="#2364ff" stroke-width="1" stroke-opacity="0.72"/>
<rect x="562.90" y="359.40" width="15.90" height="59.40" fill="none" stroke="#2364ff" stroke-width="1" stroke-opacity="0.72"/>
<line x1="562.90" y1="406.10" x2="578.80" y2="406.10" stroke="#2364ff" stroke-width="1" stroke-opacity="0.72"/>
<line x1="595.40" y1="288.50" x2="611.40" y2="288.50" stroke="#c8102e" stroke-width="1" stroke-opacity="0.72"/>
<line x1="595.40" y1="422.20" x2="611.40" y2="422.20" stroke="#c8102e" stroke-width="1" stroke-opacity="0.72"/>
<line x1="603.50" y1="288.50" x2="603.50" y2="323.10" stroke="#c8102e" stroke-width="1" stroke-opacity="0.72"/>
<line x1="603.50" y1="380.90" x2="603.50" y2="422.20" stroke="#c8102e" stroke-width="1" stroke-opacity="0.72"/>
<rect x="595.40" y="323.10" width="16.00" height="57.80" fill="none" stroke="#c8102e" stroke-width="1" stroke-opacity="0.72"/>
<line x1="595.40" y1="343.30" x2="611.40" y2="343.30" stroke="#c8102e" stroke-width="1" stroke-opacity="0.72"/>
<line x1="628.00" y1="315.40" x2="644.10" y2="315.40" stroke="#2364ff" stroke-width="1" stroke-opacity="0.72"/>
<line x1="628.00" y1="429.90" x2="644.10" y2="429.90" stroke="#2364ff" stroke-width="1" stroke-opacity="0.72"/>
<line x1="636.00" y1="315.40" x2="636.00" y2="365.40" stroke="#2364ff" stroke-width="1" stroke-opacity="0.72"/>
<line x1="636.00" y1="421.40" x2="636.00" y2="429.90" stroke="#2364ff" stroke-width="1" stroke-opacity="0.72"/>
<rect x="628.00" y="365.40" width="16.10" height="56.00" fill="none" stroke="#2364ff" stroke-width="1" stroke-opacity="0.72"/>
<line x1="628.00" y1="403.50" x2="644.10" y2="403.50" stroke="#2364ff" stroke-width="1" stroke-opacity="0.72"/>
<circle cx="398.90" cy="323.90" r="2.2" fill="#c8102e"/>
<circle cx="398.90" cy="328.30" r="2.2" fill="#c8102e"/>
<circle cx="400.90" cy="328.30" r="2.2" fill="#c8102e"/>
<circle cx="408.90" cy="329.30" r="2.2" fill="#c8102e"/>
<circle cx="410.80" cy="331.10" r="2.2" fill="#c8102e"/>
<circle cx="400.90" cy="336.80" r="2.2" fill="#c8102e"/>
<circle cx="409.60" cy="343.00" r="2.2" fill="#c8102e"/>
<circle cx="411.30" cy="344.20" r="2.2" fill="#c8102e"/>
<circle cx="399.70" cy="369.50" r="2.2" fill="#c8102e"/>
<circle cx="412.50" cy="369.50" r="2.2" fill="#c8102e"/>
<circle cx="403.00" cy="377.30" r="2.2" fill="#c8102e"/>
<circle cx="413.70" cy="399.70" r="2.2" fill="#c8102e"/>
<circle cx="400.00" cy="403.70" r="2.2" fill="#c8102e"/>
<circle cx="402.00" cy="404.40" r="2.2" fill="#c8102e"/>
<circle cx="405.20" cy="404.40" r="2.2" fill="#c8102e"/>
<circle cx="397.90" cy="409.50" r="2.2" fill="#c8102e"/>
<circle cx="399.30" cy="413.90" r="2.2" fill="#c8102e"/>
<circle cx="401.10" cy="414.90" r="2.2" fill="#c8102e"/>
<circle cx="414.70" cy="415.40" r="2.2" fill="#c8102e"/>
<circle cx="474.60" cy="312.90" r="2.2" fill="#c8102e"/>
<circle cx="469.10" cy="328.10" r="2.2" fill="#c8102e"/>
<circle cx="469.90" cy="330.10" r="2.2" fill="#c8102e"/>
<circle cx="464.70" cy="336.00" r="2.2" fill="#c8102e"/>
<circle cx="479.80" cy="334.50" r="2.2" fill="#c8102e"/>
<circle cx="473.20" cy="339.30" r="2.2" fill="#c8102e"/>
<circle cx="468.80" cy="343.00" r="2.2" fill="#c8102e"/>
<circle cx="480.10" cy="357.60" r="2.2" fill="#c8102e"/>
<circle cx="472.60" cy="362.20" r="2.2" fill="#c8102e"/>
<circle cx="465.80" cy="367.50" r="2.2" fill="#c8102e"/>
<circle cx="466.20" cy="371.00" r="2.2" fill="#c8102e"/>
<circle cx="480.50" cy="375.20" r="2.2" fill="#c8102e"/>
<circle cx="471.80" cy="376.50" r="2.2" fill="#c8102e"/>
<circle cx="479.80" cy="380.10" r="2.2" fill="#c8102e"/>
<circle cx="479.40" cy="392.80" r="2.2" fill="#c8102e"/>
<circle cx="474.30" cy="399.60" r="2.2" fill="#c8102e"/>
<circle cx="477.00" cy="402.70" r="2.2" fill="#c8102e"/>
<circle cx="475.90" cy="404.60" r="2.2" fill="#c8102e"/>
<circle cx="478.70" cy="408.40" r="2.2" fill="#c8102e"/>
<circle cx="464.40" cy="414.50" r="2.2" fill="#c8102e"/>
<circle cx="543.00" cy="298.30" r="2.2" fill="#c8102e"/>
<circle cx="537.90" cy="302.20" r="2.2" fill="#c8102e"/>
<circle cx="537.90" cy="320.80" r="2.2" fill="#c8102e"/>
<circle cx="530.20" cy="328.20" r="2.2" fill="#c8102e"/>
<circle cx="545.30" cy="328.50" r="2.2" fill="#c8102e"/>
<circle cx="535.30" cy="337.40" r="2.2" fill="#c8102e"/>
<circle cx="530.80" cy="341.90" r="2.2" fill="#c8102e"/>
<circle cx="534.00" cy="341.30" r="2.2" fill="#c8102e"/>
<circle cx="538.50" cy="343.20" r="2.2" fill="#c8102e"/>
<circle cx="546.00" cy="341.50" r="2.2" fill="#c8102e"/>
<circle cx="543.60" cy="359.10" r="2.2" fill="#c8102e"/>
<circle cx="530.60" cy="366.00" r="2.2" fill="#c8102e"/>
<circle cx="540.70" cy="378.60" r="2.2" fill="#c8102e"/>
<circle cx="530.80" cy="390.80" r="2.2" fill="#c8102e"/>
<circle cx="531.60" cy="401.10" r="2.2" fill="#c8102e"/>
<circle cx="540.00" cy="405.30" r="2.2" fill="#c8102e"/>
<circle cx="543.30" cy="408.20" r="2.2" fill="#c8102e"/>
<circle cx="545.20" cy="416.10" r="2.2" fill="#c8102e"/>
<circle cx="535.70" cy="419.20" r="2.2" fill="#c8102e"/>
<circle cx="535.20" cy="421.70" r="2.2" fill="#c8102e"/>
<circle cx="597.10" cy="288.20" r="2.2" fill="#c8102e"/>
<circle cx="608.20" cy="304.50" r="2.2" fill="#c8102e"/>
<circle cx="609.70" cy="307.30" r="2.2" fill="#c8102e"/>
<circle cx="605.90" cy="319.20" r="2.2" fill="#c8102e"/>
<circle cx="608.50" cy="321.80" r="2.2" fill="#c8102e"/>
<circle cx="599.00" cy="325.60" r="2.2" fill="#c8102e"/>
<circle cx="609.20" cy="331.40" r="2.2" fill="#c8102e"/>
<circle cx="608.20" cy="334.60" r="2.2" fill="#c8102e"/>
<circle cx="599.90" cy="334.00" r="2.2" fill="#c8102e"/>
<circle cx="601.20" cy="351.70" r="2.2" fill="#c8102e"/>
<circle cx="601.20" cy="354.20" r="2.2" fill="#c8102e"/>
<circle cx="607.60" cy="351.00" r="2.2" fill="#c8102e"/>
<circle cx="600.10" cy="359.10" r="2.2" fill="#c8102e"/>
<circle cx="605.40" cy="375.00" r="2.2" fill="#c8102e"/>
<circle cx="596.00" cy="383.50" r="2.2" fill="#c8102e"/>
<circle cx="598.00" cy="383.50" r="2.2" fill="#c8102e"/>
<circle cx="607.10" cy="401.30" r="2.2" fill="#c8102e"/>
<circle cx="606.50" cy="416.10" r="2.2" fill="#c8102e"/>
<circle cx="609.10" cy="422.00" r="2.2" fill="#c8102e"/>
<circle cx="440.80" cy="313.10" r="2.2" fill="#2364ff"/>
<circle cx="435.30" cy="320.10" r="2.2" fill="#2364ff"/>
<circle cx="439.40" cy="322.50" r="2.2" fill="#2364ff"/>
<circle cx="446.80" cy="322.70" r="2.2" fill="#2364ff"/>
<circle cx="430.60" cy="326.30" r="2.2" fill="#2364ff"/>
<circle cx="434.90" cy="326.80" r="2.2" fill="#2364ff"/>
<circle cx="444.00" cy="327.70" r="2.2" fill="#2364ff"/>
<circle cx="446.00" cy="326.80" r="2.2" fill="#2364ff"/>
<circle cx="434.50" cy="329.30" r="2.2" fill="#2364ff"/>
<circle cx="436.50" cy="329.70" r="2.2" fill="#2364ff"/>
<circle cx="434.10" cy="331.40" r="2.2" fill="#2364ff"/>
<circle cx="435.70" cy="332.20" r="2.2" fill="#2364ff"/>
<circle cx="440.70" cy="332.60" r="2.2" fill="#2364ff"/>
<circle cx="447.70" cy="333.00" r="2.2" fill="#2364ff"/>
<circle cx="433.20" cy="333.80" r="2.2" fill="#2364ff"/>
<circle cx="435.70" cy="333.40" r="2.2" fill="#2364ff"/>
<circle cx="432.00" cy="338.80" r="2.2" fill="#2364ff"/>
<circle cx="440.20" cy="339.00" r="2.2" fill="#2364ff"/>
<circle cx="437.00" cy="343.10" r="2.2" fill="#2364ff"/>
<circle cx="447.10" cy="380.30" r="2.2" fill="#2364ff"/>
<circle cx="444.00" cy="410.00" r="2.2" fill="#2364ff"/>
<circle cx="501.00" cy="317.10" r="2.2" fill="#2364ff"/>
<circle cx="504.50" cy="319.30" r="2.2" fill="#2364ff"/>
<circle cx="512.70" cy="320.40" r="2.2" fill="#2364ff"/>
<circle cx="508.70" cy="323.20" r="2.2" fill="#2364ff"/>
<circle cx="503.20" cy="327.40" r="2.2" fill="#2364ff"/>
<circle cx="509.40" cy="328.10" r="2.2" fill="#2364ff"/>
<circle cx="496.60" cy="330.90" r="2.2" fill="#2364ff"/>
<circle cx="503.40" cy="330.30" r="2.2" fill="#2364ff"/>
<circle cx="503.40" cy="333.10" r="2.2" fill="#2364ff"/>
<circle cx="497.90" cy="337.50" r="2.2" fill="#2364ff"/>
<circle cx="504.50" cy="335.30" r="2.2" fill="#2364ff"/>
<circle cx="511.10" cy="335.80" r="2.2" fill="#2364ff"/>
<circle cx="513.30" cy="336.40" r="2.2" fill="#2364ff"/>
<circle cx="511.60" cy="338.60" r="2.2" fill="#2364ff"/>
<circle cx="507.80" cy="345.70" r="2.2" fill="#2364ff"/>
<circle cx="510.50" cy="347.90" r="2.2" fill="#2364ff"/>
<circle cx="500.60" cy="357.80" r="2.2" fill="#2364ff"/>
<circle cx="512.90" cy="414.80" r="2.2" fill="#2364ff"/>
<circle cx="563.70" cy="323.10" r="2.2" fill="#2364ff"/>
<circle cx="567.30" cy="344.50" r="2.2" fill="#2364ff"/>
<circle cx="576.00" cy="351.70" r="2.2" fill="#2364ff"/>
<circle cx="564.00" cy="354.50" r="2.2" fill="#2364ff"/>
<circle cx="567.30" cy="356.40" r="2.2" fill="#2364ff"/>
<circle cx="568.10" cy="368.80" r="2.2" fill="#2364ff"/>
<circle cx="574.20" cy="373.30" r="2.2" fill="#2364ff"/>
<circle cx="562.50" cy="375.50" r="2.2" fill="#2364ff"/>
<circle cx="564.00" cy="379.80" r="2.2" fill="#2364ff"/>
<circle cx="562.50" cy="395.60" r="2.2" fill="#2364ff"/>
<circle cx="564.00" cy="415.60" r="2.2" fill="#2364ff"/>
<circle cx="566.70" cy="415.80" r="2.2" fill="#2364ff"/>
<circle cx="568.80" cy="416.40" r="2.2" fill="#2364ff"/>
<circle cx="578.00" cy="415.50" r="2.2" fill="#2364ff"/>
<circle cx="571.40" cy="418.20" r="2.2" fill="#2364ff"/>
<circle cx="573.80" cy="419.40" r="2.2" fill="#2364ff"/>
<circle cx="572.00" cy="421.20" r="2.2" fill="#2364ff"/>
<circle cx="575.00" cy="420.00" r="2.2" fill="#2364ff"/>
<circle cx="561.70" cy="421.40" r="2.2" fill="#2364ff"/>
<circle cx="578.90" cy="427.40" r="2.2" fill="#2364ff"/>
<circle cx="631.90" cy="315.10" r="2.2" fill="#2364ff"/>
<circle cx="636.10" cy="319.00" r="2.2" fill="#2364ff"/>
<circle cx="631.00" cy="342.30" r="2.2" fill="#2364ff"/>
<circle cx="640.00" cy="345.10" r="2.2" fill="#2364ff"/>
<circle cx="641.70" cy="364.30" r="2.2" fill="#2364ff"/>
<circle cx="635.10" cy="368.20" r="2.2" fill="#2364ff"/>
<circle cx="631.00" cy="373.80" r="2.2" fill="#2364ff"/>
<circle cx="635.30" cy="373.80" r="2.2" fill="#2364ff"/>
<circle cx="637.40" cy="382.00" r="2.2" fill="#2364ff"/>
<circle cx="644.10" cy="391.40" r="2.2" fill="#2364ff"/>
<circle cx="635.50" cy="415.30" r="2.2" fill="#2364ff"/>
<circle cx="633.40" cy="416.90" r="2.2" fill="#2364ff"/>
<circle cx="632.20" cy="419.00" r="2.2" fill="#2364ff"/>
<circle cx="632.20" cy="421.00" r="2.2" fill="#2364ff"/>
<circle cx="633.60" cy="423.50" r="2.2" fill="#2364ff"/>
<circle cx="637.70" cy="419.40" r="2.2" fill="#2364ff"/>
<circle cx="642.10" cy="421.30" r="2.2" fill="#2364ff"/>
<circle cx="640.50" cy="427.20" r="2.2" fill="#2364ff"/>
<circle cx="633.90" cy="430.10" r="2.2" fill="#2364ff"/>
<circle cx="439.40" cy="380.30" r="2.1" fill="#fff" stroke="#2364ff" stroke-width="0.9"/>
<circle cx="439.40" cy="410.00" r="2.1" fill="#fff" stroke="#2364ff" stroke-width="0.9"/>
<circle cx="505.40" cy="357.80" r="2.1" fill="#fff" stroke="#2364ff" stroke-width="0.9"/>
<circle cx="505.00" cy="414.80" r="2.1" fill="#fff" stroke="#2364ff" stroke-width="0.9"/>
<text x="407.90" y="446.50" font-size="7.2" text-anchor="middle" fill="#333" transform="rotate(-45 407.90 446.50)">PT</text>
<text x="473.80" y="446.50" font-size="7.2" text-anchor="middle" fill="#333" transform="rotate(-45 473.80 446.50)">PT</text>
<text x="539.60" y="446.50" font-size="7.2" text-anchor="middle" fill="#333" transform="rotate(-45 539.60 446.50)">PT</text>
<text x="604.90" y="446.50" font-size="7.2" text-anchor="middle" fill="#333" transform="rotate(-45 604.90 446.50)">PT</text>
<text x="440.60" y="446.60" font-size="7.2" text-anchor="middle" fill="#333" transform="rotate(-45 440.60 446.60)">CG</text>
<text x="506.40" y="446.60" font-size="7.2" text-anchor="middle" fill="#333" transform="rotate(-45 506.40 446.60)">CG</text>
<text x="571.70" y="446.60" font-size="7.2" text-anchor="middle" fill="#333" transform="rotate(-45 571.70 446.60)">CG</text>
<text x="636.90" y="446.60" font-size="7.2" text-anchor="middle" fill="#333" transform="rotate(-45 636.90 446.60)">CG</text>
<polyline points="391.6,453.0 391.6,455.4 454.4,455.4 454.4,453.0" fill="none" stroke="#a8a8a8" stroke-width="0.9"/>
<polyline points="457.1,453.0 457.1,455.4 520.1,455.4 520.1,453.0" fill="none" stroke="#a8a8a8" stroke-width="0.9"/>
<polyline points="522.2,453.0 522.2,455.4 586.4,455.4 586.4,453.0" fill="none" stroke="#a8a8a8" stroke-width="0.9"/>
<polyline points="588.3,453.0 588.3,455.4 651.8,455.4 651.8,453.0" fill="none" stroke="#a8a8a8" stroke-width="0.9"/>
<text x="427.70" y="460.00" font-size="9.3" text-anchor="end" fill="#2a2a2a" stroke="#2a2a2a" stroke-width="0.12" font-style="italic" textLength="65.60" lengthAdjust="spacingAndGlyphs" transform="rotate(-45 427.70 460.00)">Coprococcus_catus</text>
<text x="493.40" y="460.00" font-size="9.3" text-anchor="end" fill="#2a2a2a" stroke="#2a2a2a" stroke-width="0.12" font-style="italic" textLength="71.00" lengthAdjust="spacingAndGlyphs" transform="rotate(-45 493.40 460.00)">Gemmiger_formicilis</text>
<text x="558.50" y="460.00" font-size="9.3" text-anchor="end" fill="#2a2a2a" stroke="#2a2a2a" stroke-width="0.12" font-style="italic" textLength="95.30" lengthAdjust="spacingAndGlyphs" transform="rotate(-45 558.50 460.00)">Clostridium_clostridioforme</text>
<text x="624.40" y="460.00" font-size="9.3" text-anchor="end" fill="#2a2a2a" stroke="#2a2a2a" stroke-width="0.12" font-style="italic" textLength="61.00" lengthAdjust="spacingAndGlyphs" transform="rotate(-45 624.40 460.00)">Blautia_coccoides</text>
<circle cx="662.50" cy="272.30" r="2.4" fill="#c8102e"/>
<text x="670.20" y="275.20" font-size="9.2" fill="#333" stroke="#333" stroke-width="0.12" textLength="7.80" lengthAdjust="spacingAndGlyphs">PT</text>
<circle cx="662.50" cy="281.40" r="2.4" fill="#2364ff"/>
<text x="670.20" y="284.30" font-size="9.2" fill="#333" stroke="#333" stroke-width="0.12" textLength="8.80" lengthAdjust="spacingAndGlyphs">CG</text>
<line x1="662.50" y1="287.30" x2="662.50" y2="294.50" stroke="#333" stroke-width="0.9"/>
<rect x="659.40" y="289.20" width="6.40" height="3.40" fill="#fff" stroke="#333" stroke-width="0.9"/>
<text x="670.90" y="293.20" font-size="9.2" fill="#333" stroke="#333" stroke-width="0.12" textLength="15.50" lengthAdjust="spacingAndGlyphs">Data</text>
<rect x="656.20" y="296.40" width="12.10" height="6.40" fill="#c8102e"/>
<text x="670.20" y="302.40" font-size="9.2" fill="#333" stroke="#333" stroke-width="0.12" textLength="7.80" lengthAdjust="spacingAndGlyphs">PT</text>
<rect x="656.20" y="305.50" width="12.10" height="6.40" fill="#2364ff"/>
<text x="670.20" y="311.40" font-size="9.2" fill="#333" stroke="#333" stroke-width="0.12" textLength="8.80" lengthAdjust="spacingAndGlyphs">CG</text>
</g>
</svg>
</body></html>
